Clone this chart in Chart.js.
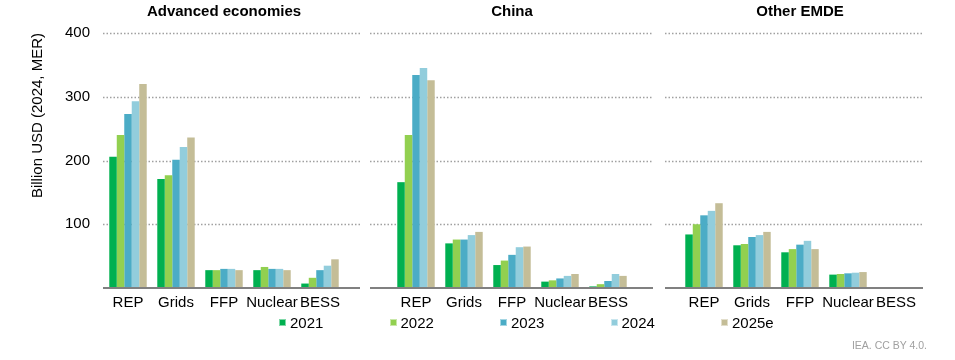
<!DOCTYPE html>
<html>
<head>
<meta charset="utf-8">
<script src="https://cdn.jsdelivr.net/npm/chart.js@4.4.1/dist/chart.umd.min.js"></script>
<style>
body { margin: 0; background: #fff; font-family: 'Liberation Sans', Arial, sans-serif; }
#wrap { position: relative; width: 955px; height: 360px; }
#chartOne { position: absolute; left: 0; top: 0; }
.item { position: absolute; top: 313px; height: 18px; display: flex; align-items: center; font-size: 15px; color: #000; }
.item i { display: inline-block; width: 7px; height: 7px; margin-right: 4px; box-sizing: border-box; border: 1px solid rgba(255,255,255,0.5); }
#source { position: absolute; right: 28px; top: 339px; font-size: 10.5px; color: #a0a0a0; }
</style>
</head>
<body>
<div id="wrap">
  <canvas id="chartOne" width="955" height="360"></canvas>
  <div id="legend"></div>
  <div id="source">IEA. CC BY 4.0.</div>
</div>
<script>
const categories = ['REP', 'Grids', 'FFP', 'Nuclear', 'BESS'];
const regions = ['Advanced economies', 'China', 'Other EMDE'];
const years = ['2021', '2022', '2023', '2024', '2025e'];
const yTicks = [0, 100, 200, 300, 400];

// billion USD, order: Advanced economies, China, Other EMDE (5 categories each)
const v2021 = [206, 171, 28, 28, 7,   166, 70, 36, 10, 2.5,   84, 67, 56, 21, 0.3];
const v2022 = [240, 177, 28, 33, 16,  240, 76, 43, 12, 6,     100, 69, 61, 22, 0.3];
const v2023 = [273, 201, 30, 30, 28,  334, 76, 52, 15, 11,    114, 80, 68, 23, 0.5];
const v2024 = [293, 221, 30, 30, 35,  345, 83, 64, 19, 22,    121, 83, 74, 24, 0.8];
const v2025 = [320, 236, 28, 28, 45,  326, 88, 65, 22, 19,    133, 88, 61, 25, 1.5];

const colors = ['#00b050', '#92d050', '#4bacc6', '#92cddc', '#c4bd97'];
const series = [v2021, v2022, v2023, v2024, v2025];

// one x axis with an empty slot between regions
const labels = [];
const topLabels = [];
regions.forEach((r, i) => {
  categories.forEach((c, j) => {
    labels.push(c);
    topLabels.push(j === 2 ? r : '');
  });
  if (i < regions.length - 1) { labels.push(''); topLabels.push(''); }
});

function spread(vals) {
  const out = [];
  regions.forEach((r, i) => {
    out.push(...vals.slice(i * 5, i * 5 + 5));
    if (i < regions.length - 1) out.push(null);
  });
  return out;
}

// gridlines are broken between the panels
const panelPad = [[1, 16], [22, 21], [15, 3]];
function panelEnds(x, i) {
  const half = (x.getPixelForValue(1) - x.getPixelForValue(0)) / 2;
  return [x.getPixelForValue(i * 6) - half - panelPad[i][0],
          x.getPixelForValue(i * 6 + 4) + half + panelPad[i][1]];
}
const panelLines = {
  id: 'panelLines',
  beforeDatasetsDraw(chart) {
    const ctx = chart.ctx, x = chart.scales.x, y = chart.scales.y;
    ctx.save();
    ctx.strokeStyle = '#a0a0a0';
    ctx.lineWidth = 1.5;
    ctx.setLineDash([1.5, 2]);
    regions.forEach((r, i) => {
      const [x0, x1] = panelEnds(x, i);
      yTicks.slice(1).forEach(t => {
        const py = Math.round(y.getPixelForValue(t)) + 0.5;
        ctx.beginPath(); ctx.moveTo(x0, py); ctx.lineTo(x1, py); ctx.stroke();
      });
    });
    ctx.restore();
  },
  afterDatasetsDraw(chart) {
    const ctx = chart.ctx, x = chart.scales.x, y = chart.scales.y;
    ctx.save();
    ctx.strokeStyle = '#808080';
    ctx.lineWidth = 2;
    regions.forEach((r, i) => {
      const [x0, x1] = panelEnds(x, i);
      const py = y.getPixelForValue(0);
      ctx.beginPath(); ctx.moveTo(x0, py); ctx.lineTo(x1, py); ctx.stroke();
    });
    ctx.restore();
  }
};

const chart1 = document.getElementById('chartOne');

new Chart(chart1, {
  type: 'bar',
  data: {
    labels: labels,
    datasets: years.map((yr, i) => ({
      label: yr,
      data: spread(series[i]),
      backgroundColor: colors[i],
      borderWidth: 0,
      categoryPercentage: 0.78,
      barPercentage: 1.0
    }))
  },
  options: {
    responsive: false,
    animation: false,
    layout: { padding: { left: 20, right: 35, top: 2, bottom: 44 } },
    plugins: { legend: { display: false }, tooltip: { enabled: false } },
    scales: {
      x: {
        grid: { display: false, drawTicks: false },
        border: { display: false },
        afterFit: s => { s.height = 28; },
        ticks: { autoSkip: false, maxRotation: 0, padding: 6, color: '#000',
                 font: { family: 'Liberation Sans', size: 15 } }
      },
      xTop: {
        type: 'category',
        position: 'top',
        labels: topLabels,
        grid: { display: false, drawTicks: false },
        border: { display: false },
        afterFit: s => { s.height = 31; },
        ticks: { autoSkip: false, maxRotation: 0, padding: 12, color: '#000',
                 font: { family: 'Liberation Sans', size: 15, weight: 'bold' } }
      },
      y: {
        min: 0,
        max: 400,
        grid: { display: false, drawTicks: false },
        border: { display: false },
        afterFit: s => { s.width = 84; },
        ticks: { stepSize: 100, padding: 14, color: '#000',
                 font: { family: 'Liberation Sans', size: 15 },
                 callback: v => (v === 0 ? '' : v) },
        title: { display: true, text: 'Billion USD (2024, MER)', align: 'end', color: '#000',
                 padding: { top: 9, bottom: 0 },
                 font: { family: 'Liberation Sans', size: 15 } }
      }
    }
  },
  plugins: [panelLines]
});

const legend = document.getElementById('legend');
years.forEach((yr, i) => {
  const d = document.createElement('div');
  d.className = 'item';
  d.style.left = (279 + i * 110.5) + 'px';
  d.innerHTML = '<i style="background:' + colors[i] + '"></i>' + yr;
  legend.appendChild(d);
});
</script>
</body>
</html>
